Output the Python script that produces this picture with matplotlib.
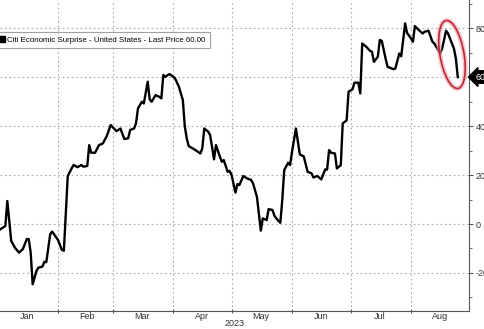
import matplotlib
matplotlib.use('Agg')
import matplotlib.pyplot as plt
import matplotlib.dates as mdates
from matplotlib.patches import Ellipse
from matplotlib.lines import Line2D
from matplotlib.transforms import IdentityTransform
import pandas as pd

plt.rcParams['font.family'] = ['Liberation Sans', 'DejaVu Sans']
plt.rcParams['axes.unicode_minus'] = False

# Citi Economic Surprise Index - US, 2023 (month by month)
jan_days = [2, 5, 6, 8, 10, 12, 14, 16, 17, 18, 19, 21, 22, 24, 25, 26, 28, 29, 31]
jan_vals = [-2.4, -0.8, 9.4, -6.9, -9.8, -11.7, -10.2, -6.1, -6.2, -11.8, -24.6,
            -19.0, -17.8, -17.4, -15.4, -15.6, -4.1, -3.1, -5.4]
feb_days = [1, 3, 4, 6, 8, 9, 11, 13, 14, 16, 17, 18, 20, 22, 24, 26, 28]
feb_vals = [-6.5, -10.6, -10.9, 19.6, 22.7, 24.1, 23.2, 24.1, 23.4, 23.7, 32.2,
            29.1, 29.1, 32.2, 32.9, 35.9, 40.4]
mar_days = [3, 5, 7, 9, 10, 12, 13, 14, 16, 17, 19, 20, 21, 23, 25, 26, 27, 28, 30, 31]
mar_vals = [37.9, 39.0, 34.7, 35.0, 38.4, 39.0, 41.1, 47.2, 49.9, 49.2, 58.1, 50.9,
            49.9, 52.6, 51.9, 51.3, 60.8, 60.1, 61.2, 60.8]
apr_days = [2, 4, 6, 7, 8, 9, 11, 13, 15, 16, 17, 19, 20, 22, 23, 25, 26, 27, 29, 30]
apr_vals = [59.5, 56.0, 50.6, 40.0, 35.0, 31.8, 30.9, 29.9, 28.8, 30.9, 39.0, 37.7,
            36.3, 26.4, 32.2, 27.5, 25.4, 26.1, 21.3, 21.7]
may_days = [1, 3, 4, 5, 7, 9, 11, 12, 14, 16, 17, 19, 20, 22, 23, 25, 26, 27, 28, 30, 31]
may_vals = [20.0, 12.8, 16.3, 15.9, 19.6, 18.6, 18.0, 16.6, 11.1, -2.7, 2.3, 1.6,
            6.1, 5.7, 3.3, 1.3, 0.5, 9.8, 22.0, 25.0, 24.1]
jun_days = [1, 3, 5, 7, 9, 11, 12, 14, 16, 18, 19, 20, 21, 23, 24, 26, 27, 29, 30]
jun_vals = [29.5, 39.0, 28.4, 27.6, 21.3, 20.7, 19.0, 19.6, 18.2, 22.3, 22.2, 30.2,
            29.1, 28.8, 22.7, 24.0, 41.1, 42.3, 54.0]
jul_days = [2, 3, 5, 6, 7, 9, 11, 12, 13, 15, 16, 17, 19, 20, 23, 24, 26, 27, 29, 30]
jul_vals = [55.0, 57.7, 57.7, 53.3, 73.7, 72.4, 70.7, 70.3, 66.2, 68.3, 75.1, 74.8,
            67.5, 64.2, 63.2, 63.5, 69.6, 68.5, 81.9, 78.0]
aug_days = [1, 2, 3, 5, 7, 8, 10, 12, 13, 15, 16, 17, 19, 20, 22, 23, 24, 25]
aug_vals = [75.8, 74.4, 80.8, 79.2, 77.8, 78.5, 78.9, 74.4, 73.7, 71.0, 69.6, 71.7,
            78.9, 77.8, 73.7, 71.7, 67.6, 60.0]

y_ticks = [-20, 0, 20, 40, 60, 80]
last_price = 60.00
series_name = 'Citi Economic Surprise - United States - Last Price'

all_days = [jan_days, feb_days, mar_days, apr_days, may_days, jun_days, jul_days, aug_days]
all_vals = [jan_vals, feb_vals, mar_vals, apr_vals, may_vals, jun_vals, jul_vals, aug_vals]
dates, vals = [], []
for m, (dd, vv) in enumerate(zip(all_days, all_vals), start=1):
    dates += [pd.Timestamp(2023, m, d) for d in dd]
    vals += vv

fig = plt.figure(figsize=(4.85, 3.29), dpi=100)
ax = fig.add_axes([0.0, 0.0556, 0.967, 0.944])

ax.plot(dates, vals, color='black', lw=1.7, zorder=3)

ax.set_xlim(pd.Timestamp('2023-01-02 06:00'), pd.Timestamp('2023-08-30 18:00'))
ax.set_ylim(-35.4, 91.4)

# x axis: ticks at month starts, labels mid-month
ax.xaxis.set_major_locator(mdates.MonthLocator())
ax.xaxis.set_major_formatter(plt.NullFormatter())
ax.xaxis.set_minor_locator(mdates.MonthLocator(bymonthday=16))
ax.xaxis.set_minor_formatter(mdates.DateFormatter('%b'))
ax.tick_params(axis='x', which='major', length=3, direction='inout', color='#555555')
ax.tick_params(axis='x', which='minor', length=0, labelsize=6.5, labelcolor='#333333', pad=1)

# y axis on the right; the 60 label is covered by the last price tag
ax.yaxis.tick_right()
ax.set_yticks(y_ticks)
ax.set_yticklabels(['' if t == last_price else str(t) for t in y_ticks])
ax.set_yticks(range(-30, 91, 10), minor=True)
ax.tick_params(axis='y', which='major', length=3, labelsize=6.5, labelcolor='#333333',
               color='#555555', pad=2)
ax.tick_params(axis='y', which='minor', length=2, color='#555555')

ax.grid(True, which='major', linestyle=(0, (1.5, 2.5)), color='#aaaaaa', linewidth=0.8)

for s in ['top', 'left']:
    ax.spines[s].set_visible(False)
for s in ['bottom', 'right']:
    ax.spines[s].set_color('#555555')
    ax.spines[s].set_linewidth(0.8)

fig.text(235 / 485, 1 - 324 / 329, '2023', fontsize=6.5, color='#333333',
         ha='center', va='center')

# legend box
handle = Line2D([], [], marker='s', color='black', linestyle='none', markersize=5)
leg = ax.legend([handle], [f'{series_name} {last_price:.2f}'], loc='upper left',
                bbox_to_anchor=(-0.012, 1 - 32 / 329), bbox_transform=fig.transFigure,
                fontsize=5.7, frameon=True, fancybox=False, handlelength=0.8,
                handletextpad=0.3, borderpad=0.55, borderaxespad=0)
leg.get_frame().set_edgecolor('#888888')
leg.get_frame().set_linewidth(0.8)

# last price tag
ax.annotate(f'{last_price:.2f}', xy=(1.0, last_price),
            xycoords=('axes fraction', 'data'), xytext=(4.5, 0),
            textcoords='offset points', ha='left', va='center', fontsize=6.4,
            color='white', zorder=6,
            bbox=dict(boxstyle='larrow,pad=0.2', fc='black', ec='black'))

# red highlight ellipse around the latest drop
ctr = (452, 329 - 54.5)
ax.add_artist(Ellipse(ctr, 24, 69, angle=10, transform=IdentityTransform(),
                      fill=False, ec='#e8a0a8', lw=3.5, alpha=0.6, zorder=4))
ax.add_artist(Ellipse(ctr, 24, 69, angle=10, transform=IdentityTransform(),
                      fill=False, ec='#c0283a', lw=1.2, zorder=5))

fig.savefig('out.png', dpi=100)
